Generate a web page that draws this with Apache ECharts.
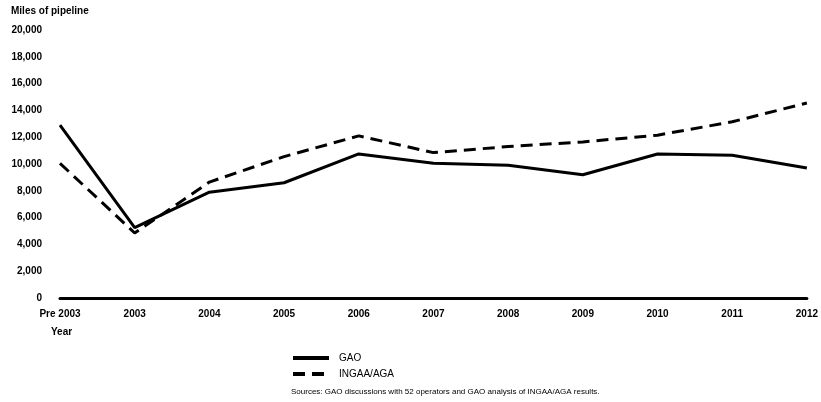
<!DOCTYPE html>
<html>
<head>
<meta charset="utf-8">
<script src="https://cdn.jsdelivr.net/npm/echarts@6/dist/echarts.min.js"></script>
<style>html,body{margin:0;padding:0;background:#fff}#c{width:821px;height:402px}</style>
</head>
<body>
<div id="c"></div>
<script>
var categories = ['Pre 2003','2003','2004','2005','2006','2007','2008','2009','2010','2011','2012'];
var gaoValues = [12900, 5250, 7900, 8600, 10750, 10050, 9900, 9200, 10750, 10650, 9700];
var ingaaValues = [10050, 4850, 8650, 10550, 12100, 10850, 11300, 11650, 12150, 13150, 14550];
var seriesNames = ['GAO', 'INGAA/AGA'];
var yTitle = 'Miles of pipeline';
var xTitle = 'Year';
var sourceText = 'Sources: GAO discussions with 52 operators and GAO analysis of INGAA/AGA results.';

var font = '"Liberation Sans", Arial, Helvetica, sans-serif';
var chart = echarts.init(document.getElementById('c'), null, {renderer: 'canvas'});
chart.setOption({
  animation: false,
  backgroundColor: '#fff',
  grid: {left: 60, right: 10, top: 30, bottom: 104, containLabel: false},
  xAxis: {
    type: 'category',
    data: categories,
    boundaryGap: false,
    axisLine: {show: true, lineStyle: {color: '#000', width: 3}},
    axisTick: {show: false},
    axisLabel: {color: '#000', fontWeight: 'bold', fontSize: 10, fontFamily: font, margin: 11}
  },
  yAxis: {
    type: 'value',
    min: 0, max: 20000, interval: 2000,
    axisLine: {show: false},
    axisTick: {show: false},
    splitLine: {show: false},
    axisLabel: {color: '#000', fontWeight: 'bold', fontSize: 10, fontFamily: font, margin: 18,
      formatter: function (v) { return v.toLocaleString('en-US'); }}
  },
  legend: {
    orient: 'vertical',
    left: 286, top: 348,
    itemWidth: 36, itemHeight: 12, itemGap: 6,
    itemStyle: {opacity: 0},
    lineStyle: {width: 4},
    textStyle: {color: '#000', fontSize: 10, fontFamily: font, padding: [0, 0, 0, 5]},
    data: seriesNames
  },
  graphic: [
    {type: 'text', left: 11, top: 6, style: {text: yTitle, fill: '#000', font: 'bold 10px ' + font}},
    {type: 'text', left: 51, top: 327, style: {text: xTitle, fill: '#000', font: 'bold 10px ' + font}},
    {type: 'text', left: 291, top: 388, style: {text: sourceText, fill: '#000', font: '8px ' + font}}
  ],
  series: [
    {name: seriesNames[0], type: 'line', data: gaoValues, symbol: 'none',
      lineStyle: {color: '#000', width: 3, type: 'solid'}, itemStyle: {color: '#000'}},
    {name: seriesNames[1], type: 'line', data: ingaaValues, symbol: 'none',
      lineStyle: {color: '#000', width: 3, type: [12, 7]}, itemStyle: {color: '#000'}}
  ]
});
</script>
</body>
</html>
